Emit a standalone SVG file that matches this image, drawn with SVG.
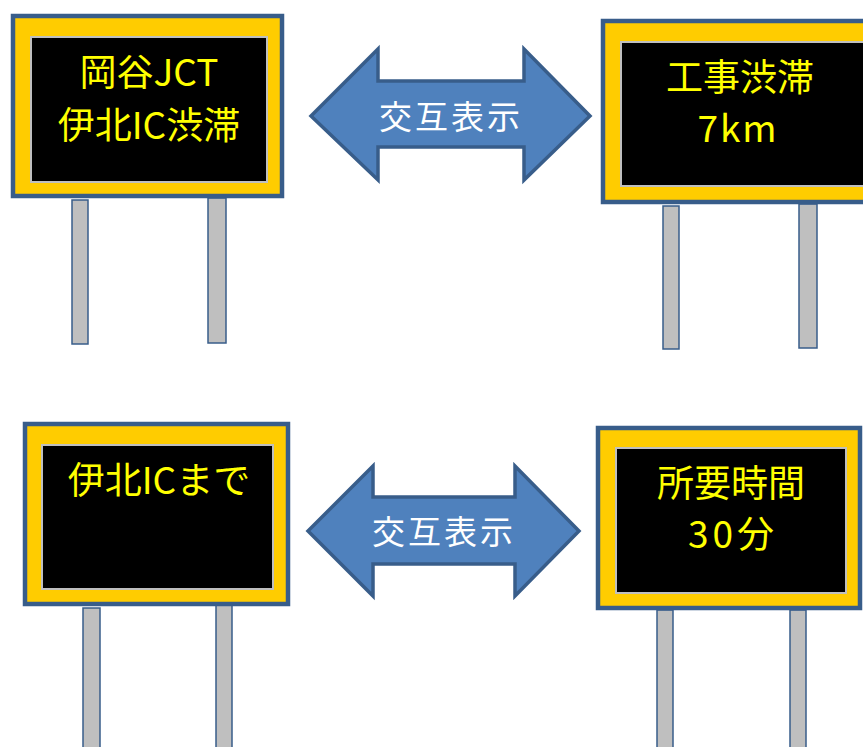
<svg xmlns="http://www.w3.org/2000/svg" width="863" height="747" viewBox="0 0 863 747">
<style>
.frame{fill:#FFCC00;stroke:#385D8A;stroke-width:4.5}
.screen{fill:#000;stroke:#BFBFBF;stroke-width:2}
.post{fill:#BFBFBF;stroke:#385D8A;stroke-width:1.5}
.msg{fill:#FFFF00;font-family:"Noto Sans CJK JP","Noto Sans",sans-serif;font-size:37px;text-anchor:middle}
.arrow{fill:#4F81BD;stroke:#385D8A;stroke-width:3.5;stroke-linejoin:miter}
.lbl{fill:#FFFFFF;font-family:"Noto Sans CJK JP","Noto Sans",sans-serif;font-size:33px;letter-spacing:3px;text-anchor:middle}
</style>
<rect width="863" height="747" fill="#FFFFFF"/>
<g id="sign1">
<rect class="post" x="72" y="200" width="16" height="144"/>
<rect class="post" x="208" y="198" width="18" height="145"/>
<rect class="frame" x="13" y="16" width="269" height="180"/>
<rect class="screen" x="31" y="37" width="236" height="145"/>
<text class="msg" x="149" y="86">岡谷JCT</text>
<text class="msg" x="149" y="139">伊北IC渋滞</text>
</g>
<g id="sign2">
<rect class="post" x="663" y="206" width="16" height="143"/>
<rect class="post" x="799" y="204" width="18" height="144"/>
<rect class="frame" x="603" y="21" width="270" height="181"/>
<rect class="screen" x="621" y="42" width="246" height="144"/>
<text class="msg" x="740" y="91">工事渋滞</text>
<text class="msg" x="738" y="142" style="letter-spacing:2px">7km</text>
</g>
<g id="sign3">
<rect class="post" x="83" y="608" width="17" height="150"/>
<rect class="post" x="216" y="605" width="16" height="153"/>
<rect class="frame" x="25" y="424" width="263" height="180"/>
<rect class="screen" x="42" y="445" width="231" height="144"/>
<text class="msg" x="159" y="494">伊北ICまで</text>
</g>
<g id="sign4">
<rect class="post" x="657" y="610" width="16" height="148"/>
<rect class="post" x="790" y="610" width="16" height="148"/>
<rect class="frame" x="598" y="428" width="262" height="180"/>
<rect class="screen" x="616" y="448" width="230" height="145"/>
<text class="msg" x="731" y="497">所要時間</text>
<text class="msg" x="733" y="548" style="letter-spacing:4px">30分</text>
</g>
<g id="connectors">
<g id="arrow1">
<polygon class="arrow" points="311,116 378,49 378,81 524,81 524,49 590,116 524,180 524,147 378,147 378,180"/>
<text class="lbl" x="451" y="129">交互表示</text>
</g>
<g id="arrow2">
<polygon class="arrow" points="308,531 373,466 373,497 515,497 515,466 579,531 515,596 515,564 373,564 373,596"/>
<text class="lbl" x="444" y="544">交互表示</text>
</g>
</g>
</svg>
